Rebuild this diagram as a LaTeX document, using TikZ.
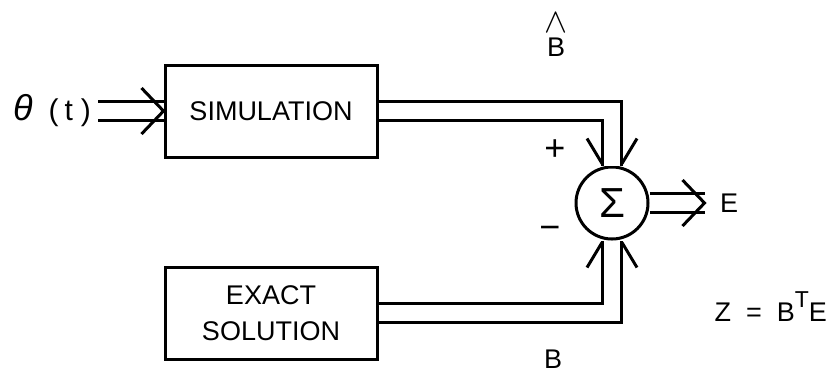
\documentclass[tikz,border=0pt]{standalone}
\usepackage{fontspec}
\setmainfont{Liberation Sans}
\usetikzlibrary{calc}

\begin{document}
\begin{tikzpicture}[x=0.5pt,y=-0.5pt,
        block/.style={rectangle,draw,line width=1.5pt,minimum width=106pt,minimum height=46pt,font=\fontsize{13.5}{15}\selectfont,align=center},
        sig/.style={draw,line width=1.5pt,double,double distance=8pt},
        lbl/.style={font=\fontsize{13.5}{15}\selectfont,align=center},
        chev/.pic={\draw[line width=1.5pt] (-22,-23) -- (0,0) -- (-22,23);},
        chevcut/.pic={\draw[line width=1.5pt] (-42,-25) -- (-17,-10) (-42,25) -- (-17,10);}]
        \useasboundingbox (0,0) rectangle (835,372);
        \node[block] (sim) at (271,111) {SIMULATION};
        \node[block] (exact) at (271,313) {EXACT\\[3pt]SOLUTION};
        \node[circle,draw,line width=1.5pt,minimum size=36pt,inner sep=0pt,font=\fontsize{21}{21}\selectfont] (sum) at (612,203) {Σ};
        \node[lbl,font=\fontsize{15}{15}\selectfont,anchor=east] (theta) at (98,111) {{\fontsize{18}{18}\selectfont\itshape θ}\hspace{8pt}(\hspace{3pt}t\hspace{4pt})};
        \node[lbl] (e) at (729,203) {E};
        \node[lbl,label={[inner sep=0pt,yshift=-1pt,font=\fontsize{17}{17}\selectfont]above:$\wedge$}] (bhat) at (556,47) {B};
        \node[lbl] (b) at (553,359) {B};
        \node[lbl] (plus) at (555,150) {\fontsize{18}{18}\selectfont +};
        \node[lbl] (minus) at (550,233) {\fontsize{18}{18}\selectfont −};
        \node[lbl,anchor=east] (zeq) at (834,307) {Z\ \ =\ \ B\raisebox{7pt}{\fontsize{11.5}{11.5}\selectfont T}E};
        % signal paths
        \draw[sig] (theta.east) -- (sim.west);
        \draw[sig] (sim.east) -| (sum.north);
        \draw[sig] (exact.east) -| (sum.south);
        \draw[sig] (sum.east) -- ++(55,0) coordinate (eout);
        % arrow heads
        \pic at (sim.west) {chev};
        \pic at (eout) {chev};
        \pic[rotate=-90] at ($(sum.north)+(0,15)$) {chevcut};
        \pic[rotate=90] at ($(sum.south)+(0,-15)$) {chevcut};
\end{tikzpicture}
\end{document}
